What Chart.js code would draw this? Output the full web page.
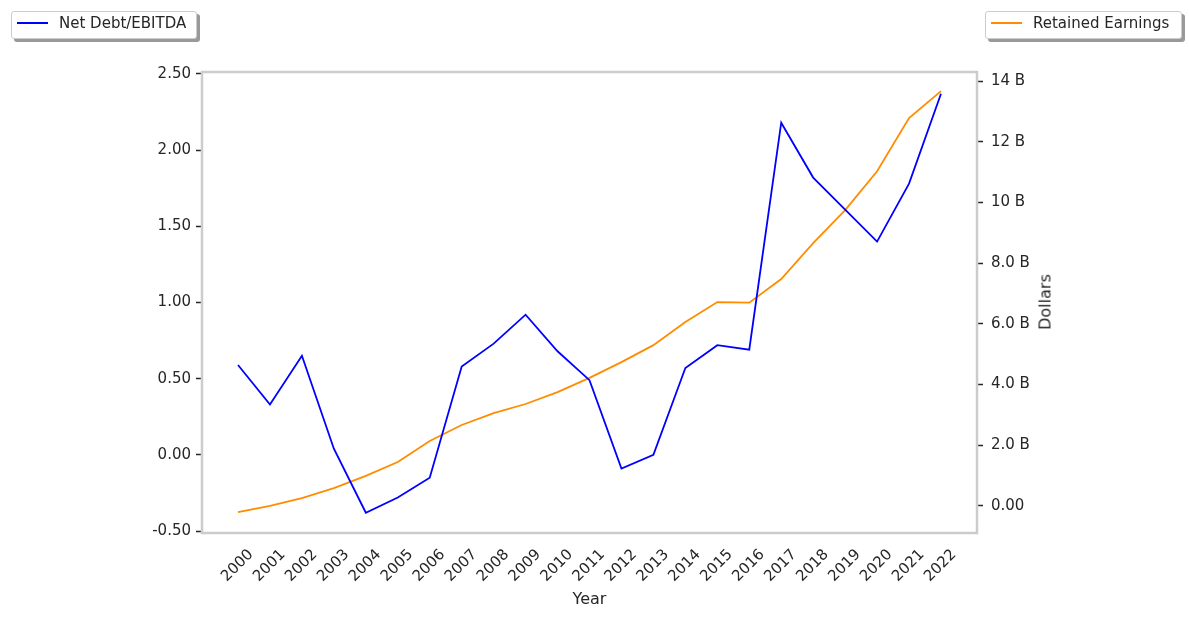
<!DOCTYPE html>
<html>
<head>
<meta charset="utf-8">
<script src="https://cdn.jsdelivr.net/npm/chart.js@4/dist/chart.umd.min.js"></script>
<style>
    body { margin: 0; background: #fff; font-family: 'DejaVu Sans', sans-serif; }
    #wrap { position: relative; width: 1189px; height: 618px; }
    .legenda {
        position: absolute; top: 11px; height: 26px;
        border: 1px solid #cccccc; border-radius: 3px; background: #fff;
        box-shadow: 3px 3px 0 #999;
        font-size: 15px; color: #262626; line-height: 22px;
    }
    .legenda span.linha { position: absolute; left: 5px; top: 10px; width: 31px; height: 2px; }
    .legenda span.texto { position: absolute; left: 47px; top: 0; white-space: nowrap; }
    #dolares {
        position: absolute; left: 1045px; top: 302px;
        transform: translate(-50%, -50%) rotate(-90deg);
        font-size: 16px; color: #262626; white-space: nowrap;
    }
</style>
</head>
<body>
<div id="wrap">
    <canvas id="chartJS" width="1189" height="618"></canvas>
    <div class="legenda" style="left:11px; width:184px;">
        <span class="linha" style="background:#0000ff"></span><span class="texto">Net Debt/EBITDA</span>
    </div>
    <div class="legenda" style="left:985px; width:195px;">
        <span class="linha" style="background:#ff8c00"></span><span class="texto">Retained Earnings</span>
    </div>
    <div id="dolares">Dollars</div>
</div>
<script>
// DADOS
const anos = [2000, 2001, 2002, 2003, 2004, 2005, 2006, 2007, 2008, 2009, 2010, 2011,
    2012, 2013, 2014, 2015, 2016, 2017, 2018, 2019, 2020, 2021, 2022]
const netDebtEbitda = [0.59, 0.33, 0.65, 0.04, -0.38, -0.28, -0.15, 0.58, 0.73, 0.92, 0.68, 0.49,
    -0.09, 0.00, 0.57, 0.72, 0.69, 2.18, 1.82, 1.61, 1.40, 1.78, 2.37]
const lucrosRetidos = [-0.20, 0.00, 0.26, 0.59, 0.99, 1.45, 2.14, 2.67, 3.06, 3.36, 3.75, 4.22,
    4.74, 5.30, 6.06, 6.72, 6.70, 7.48, 8.66, 9.75, 11.03, 12.78, 13.67] // bilhoes
const ticksEsquerda = [-0.5, 0, 0.5, 1.0, 1.5, 2.0, 2.5]
const ticksDireita = [0, 2e9, 4e9, 6e9, 8e9, 10e9, 12e9, 14e9]

const fonte = { family: 'DejaVu Sans', size: 15 }
const corTexto = '#262626'

// moldura cinza em volta da area do grafico
const moldura = {
    id: 'moldura',
    afterDraw(chart) {
        const a = chart.chartArea
        const ctx = chart.ctx
        ctx.save()
        ctx.strokeStyle = '#cccccc'
        ctx.lineWidth = 2.5
        ctx.strokeRect(a.left, a.top, a.right - a.left, a.bottom - a.top)
        ctx.restore()
    }
}

const meuchart = document.getElementById('chartJS')

const data = {
    datasets: [
        {
            label: 'Net Debt/EBITDA',
            data: anos.map((a, i) => ({ x: a, y: netDebtEbitda[i] })),
            borderColor: '#0000ff',
            borderWidth: 1.8,
            pointRadius: 0,
            yAxisID: 'y',
        },
        {
            label: 'Retained Earnings',
            data: anos.map((a, i) => ({ x: a, y: lucrosRetidos[i] * 1e9 })),
            borderColor: '#ff8c00',
            borderWidth: 1.8,
            pointRadius: 0,
            yAxisID: 'y1',
        },
    ]
}

const config = {
    type: 'line',
    data: data,
    options: {
        responsive: false,
        animation: false,
        layout: { padding: { left: 0, right: 129, top: 72, bottom: 0 } },
        plugins: {
            legend: { display: false },
            tooltip: { enabled: false },
        },
        scales: {
            x: {
                type: 'linear',
                min: 1998.873,
                max: 2023.127,
                afterBuildTicks: (axis) => { axis.ticks = anos.map(v => ({ value: v })) },
                afterFit: (scale) => { scale.height = 85 },
                grid: { display: false, drawTicks: false },
                border: { display: false },
                ticks: {
                    minRotation: 45,
                    maxRotation: 45,
                    labelOffset: 13,
                    padding: 13,
                    font: fonte,
                    color: corTexto,
                    callback: (v) => String(v),
                },
                title: {
                    display: true,
                    text: 'Year',
                    font: { family: 'DejaVu Sans', size: 16 },
                    color: corTexto,
                    padding: { top: 0, bottom: 9 },
                },
            },
            y: {
                position: 'left',
                min: -0.513,
                max: 2.513,
                afterBuildTicks: (axis) => { axis.ticks = ticksEsquerda.map(v => ({ value: v })) },
                afterFit: (scale) => { scale.width = 202 },
                grid: { drawOnChartArea: false, tickLength: 6, tickColor: '#262626', tickWidth: 1.5 },
                border: { display: false },
                ticks: {
                    padding: 5,
                    font: fonte,
                    color: corTexto,
                    callback: (v) => v.toFixed(2),
                },
            },
            y1: {
                position: 'right',
                min: -0.89e9,
                max: 14.3e9,
                afterBuildTicks: (axis) => { axis.ticks = ticksDireita.map(v => ({ value: v })) },
                afterFit: (scale) => { scale.width = 83 },
                grid: { drawOnChartArea: false, tickLength: 6, tickColor: '#262626', tickWidth: 1.5 },
                border: { display: false },
                ticks: {
                    padding: 8,
                    font: fonte,
                    color: corTexto,
                    callback: (v) => {
                        if (v === 0) return '0.00'
                        const b = v / 1e9
                        return (b < 10 ? b.toFixed(1) : b.toFixed(0)) + ' B'
                    },
                },
            },
        },
    },
    plugins: [moldura],
}

const chart = new Chart(meuchart, config)
</script>
</body>
</html>
